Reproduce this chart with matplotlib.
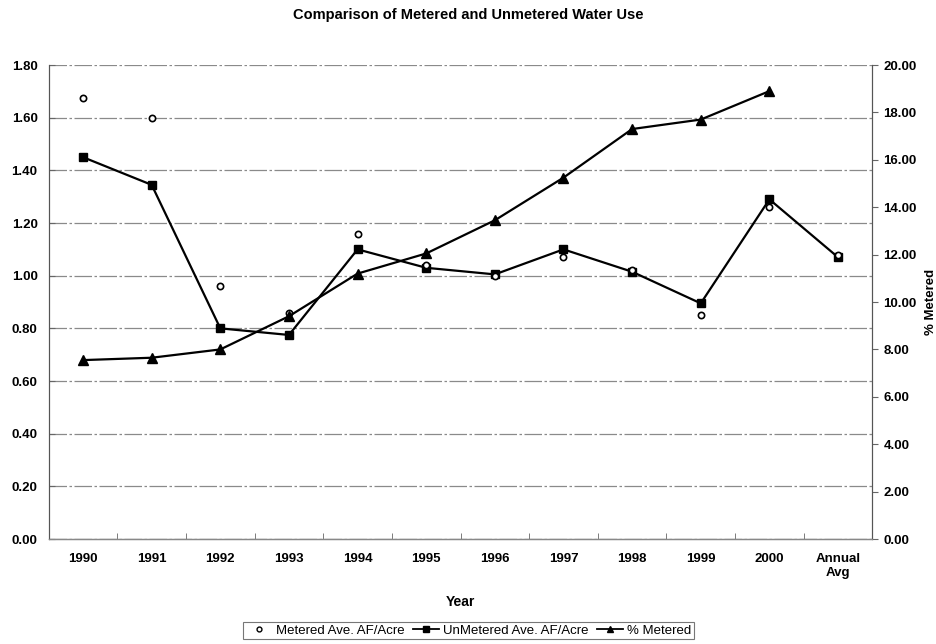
import matplotlib
matplotlib.use("Agg")
import matplotlib.pyplot as plt
import numpy as np

plt.rcParams['font.family'] = ['Liberation Sans', 'DejaVu Sans']

categories = ["1990", "1991", "1992", "1993", "1994", "1995", "1996",
              "1997", "1998", "1999", "2000", "Annual\nAvg"]
metered_af = [1.675, 1.60, 0.96, 0.86, 1.16, 1.04, 1.00, 1.07, 1.02, 0.85, 1.26, 1.08]
unmetered_af = [1.45, 1.345, 0.80, 0.775, 1.10, 1.03, 1.005, 1.10, 1.015, 0.895, 1.29, 1.07]
pct_metered = [7.55, 7.65, 8.0, 9.4, 11.2, 12.05, 13.45, 15.25, 17.3, 17.7, 18.9]

left_ticks = np.arange(0, 1.81, 0.2)
right_ticks = np.arange(0, 20.01, 2.0)

fig = plt.figure(figsize=(9.37, 6.44), dpi=100)
ax = fig.add_axes([0.052, 0.163, 0.879, 0.736])
ax2 = ax.twinx()

x = np.arange(len(categories))
ax.set_xlim(-0.5, len(categories) - 0.5)
ax.set_ylim(0, 1.8)
ax2.set_ylim(0, 20)

# horizontal gridlines
for v in left_ticks:
    ax.axhline(v, color='#8a8a8a', lw=0.9, ls=(0, (14, 2, 2, 2)), zorder=0)

l1, = ax.plot(x, metered_af, ls='none', marker='o', ms=4.5, mfc='white',
              mec='black', mew=1.2, label='Metered Ave. AF/Acre', zorder=4)
l2, = ax.plot(x, unmetered_af, color='black', lw=1.6, marker='s', ms=6,
              label='UnMetered Ave. AF/Acre', zorder=3)
l3, = ax2.plot(x[:len(pct_metered)], pct_metered, color='black', lw=1.6, marker='^',
               ms=7, label='% Metered', zorder=3)

ax.set_yticks(left_ticks)
ax.set_yticklabels([f"{v:.2f}" for v in left_ticks], fontsize=9.5, fontweight='bold')
ax2.set_yticks(right_ticks)
ax2.set_yticklabels([f"{v:.2f}" for v in right_ticks], fontsize=9.5, fontweight='bold')

ax.set_xticks(x)
ax.set_xticklabels(categories, fontsize=9.5, fontweight='bold')
ax.set_xticks(np.arange(-0.5, len(categories), 1), minor=True)
ax.tick_params(axis='x', which='major', length=0, pad=10)
ax.tick_params(axis='x', which='minor', length=4, color='#666666', direction='in')
ax.tick_params(axis='y', length=4, direction='in', color='#666666', pad=8)
ax2.tick_params(axis='y', length=4, direction='out', color='#666666', pad=4)

for a in (ax, ax2):
    a.spines['top'].set_visible(False)
    a.spines['left'].set_color('#555555')
    a.spines['right'].set_color('#555555')
    a.spines['bottom'].set_color('#888888')
    a.spines['bottom'].set_linewidth(0.9)

ax.set_xlabel("Year", fontsize=10, fontweight='bold', labelpad=12)
ax2.set_ylabel("% Metered", fontsize=9.5, fontweight='bold', labelpad=6)

fig.suptitle("Comparison of Metered and Unmetered Water Use", fontsize=10.5,
             fontweight='bold', y=0.988)

legend_handles = [
    plt.Line2D([], [], ls='none', marker='o', ms=3.5, mfc='white', mec='black', mew=1.0),
    plt.Line2D([], [], color='black', lw=1.3, marker='s', ms=4.5),
    plt.Line2D([], [], color='black', lw=1.3, marker='^', ms=5),
]
leg = fig.legend(handles=legend_handles, labels=[l1.get_label(), l2.get_label(), l3.get_label()],
                 loc='center', bbox_to_anchor=(0.5, 0.021),
                 ncol=3, fontsize=9.5, frameon=True, fancybox=False,
                 edgecolor='#555555', handlelength=2.0, handletextpad=0.3,
                 columnspacing=0.6, borderpad=0.2)
leg.get_frame().set_linewidth(0.8)

fig.savefig("out.png", dpi=100)
